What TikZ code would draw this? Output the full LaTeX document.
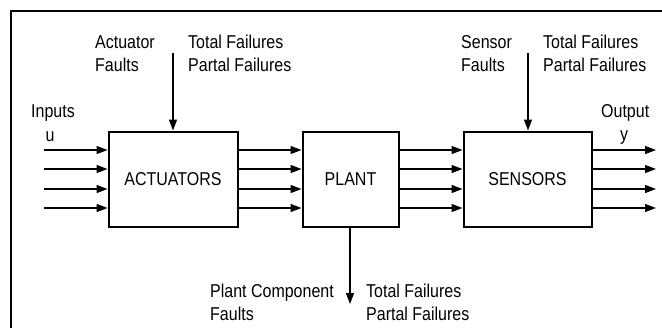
\documentclass[tikz,border=0pt]{standalone}
\usepackage{fontspec}
\setmainfont[FakeStretch=0.86]{Liberation Sans}
\usetikzlibrary{arrows.meta}
\begin{document}
\begin{tikzpicture}[x=1pt,y=-1pt,
  blk/.style={draw,line width=2pt,minimum height=95pt,inner sep=0pt,font=\fontsize{18.6}{23}\selectfont},
  arr/.style={line width=1.3pt,-{Triangle[length=11pt,width=8pt]}},
  lbl/.style={anchor=base west,inner sep=0pt,align=left,font=\fontsize{18.6}{23}\selectfont},
  lblc/.style={anchor=base,inner sep=0pt,font=\fontsize{18.6}{23}\selectfont}]
\useasboundingbox (0,0) rectangle (662,327);
\draw[line width=1.3pt] (11,340) -- (11,11) -- (680,11);
% blocks
\node[blk,minimum width=129pt] (act) at (173,179) {ACTUATORS};
\node[blk,minimum width=96pt] (plant) at (350.5,179) {PLANT};
\node[blk,minimum width=128pt] (sens) at (527.5,179) {SENSORS};
% arrow rows
\foreach \i/\yy in {1/150,2/169,3/189,4/208}{
  \coordinate (r\i) at (0,\yy);
  \coordinate (in\i) at (44,\yy);
  \coordinate (out\i) at (656,\yy);
  \draw[arr] (in\i) -- (act.west |- r\i);
  \draw[arr] (act.east |- r\i) -- (plant.west |- r\i);
  \draw[arr] (plant.east |- r\i) -- (sens.west |- r\i);
  \draw[arr] (sens.east |- r\i) -- (out\i);
}
% fault arrows
\coordinate (af) at (173,53);
\coordinate (sf) at (528,53);
\coordinate (pf) at (350,304);
\draw[arr] (af) -- (act.north);
\draw[arr] (sf) -- (sens.north -| sf);
\draw[arr] (plant.south -| pf) -- (pf);
% labels (base = last line)
\node[lbl] (actf) at (95,71.5) {Actuator\\Faults};
\node[lbl] (acttf) at (188,71.5) {Total Failures\\Partal Failures};
\node[lbl] (sensf) at (461,71.5) {Sensor\\Faults};
\node[lbl] (senstf) at (543,71.5) {Total Failures\\Partal Failures};
\node[lbl] (inp) at (31,117) {Inputs};
\node[lblc] (u) at (50,141) {u};
\node[lbl] (outp) at (601,117) {Output};
\node[lblc] (y) at (624,140) {y};
\node[lbl] (pcf) at (210,320) {Plant Component\\Faults};
\node[lbl] (pctf) at (366,320) {Total Failures\\Partal Failures};
\end{tikzpicture}
\end{document}
